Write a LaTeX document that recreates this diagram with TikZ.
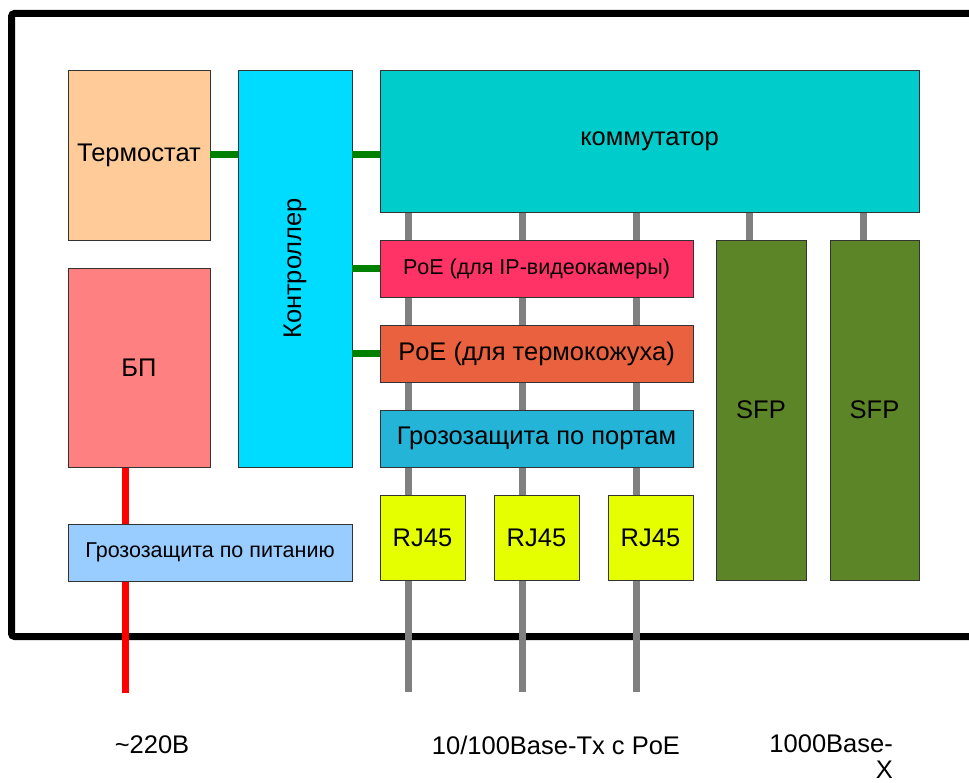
\documentclass[tikz,border=0pt]{standalone}
\usepackage{fontspec}
\setmainfont{Liberation Sans}
\usetikzlibrary{positioning}
\pgfdeclarelayer{background}
\pgfsetlayers{background,main}

\definecolor{thermo}{HTML}{FFCC99}
\definecolor{ctrlblue}{HTML}{00DCFF}
\definecolor{switchcyan}{HTML}{00CCCC}
\definecolor{poepink}{HTML}{FF3366}
\definecolor{poeorange}{HTML}{E9613E}
\definecolor{protblue}{HTML}{23B4D8}
\definecolor{rjyellow}{HTML}{E6FF00}
\definecolor{sfpgreen}{HTML}{5C8527}
\definecolor{psured}{HTML}{FF8080}
\definecolor{pwrblue}{HTML}{99CCFF}
\definecolor{linkgreen}{HTML}{008000}
\definecolor{portgray}{HTML}{808080}

\tikzset{
  block/.style={draw=black!80, line width=0.8pt, inner sep=0pt, font=\fontsize{25.5}{29}\selectfont},
  smallblock/.style={block, font=\fontsize{21.5}{25}\selectfont},
  ctrllink/.style={line width=7pt, draw=linkgreen},
  port/.style={line width=7pt, draw=portgray},
  power/.style={line width=7pt, draw=red},
  caption/.style={font=\fontsize{25.5}{26}\selectfont, inner sep=0pt},
}

\begin{document}
\begin{tikzpicture}[x=1pt, y=-1pt]
\useasboundingbox (0,0) rectangle (969,783);
\clip (0,0) rectangle (969,783);

% Blocks
\node[block, fill=thermo, minimum width=142, minimum height=170] (therm) at (139,155) {Термостат};
\node[block, fill=ctrlblue, minimum width=114, minimum height=397] (ctrl) at (295,268.5) {\rotatebox{90}{Контроллер}};
\node[block, fill=switchcyan, minimum width=539, minimum height=142] (sw) at (649.5,141) {коммутатор};
\node[smallblock, fill=poepink, minimum width=313, minimum height=57] (poecam) at (536.5,268.5) {PoE (для IP-видеокамеры)};
\node[block, fill=poeorange, minimum width=313, minimum height=57] (poeheat) at (536.5,353.5) {PoE (для термокожуха)};
\node[block, fill=protblue, minimum width=313, minimum height=57] (portprot) at (536.5,438.5) {Грозозащита по портам};
\node[block, fill=rjyellow, minimum width=85, minimum height=85] (rj1) at (422.5,537.5) {RJ45};
\node[block, fill=rjyellow, minimum width=85, minimum height=85] (rj2) at (536.5,537.5) {RJ45};
\node[block, fill=rjyellow, minimum width=85, minimum height=85] (rj3) at (650.5,537.5) {RJ45};
\node[block, fill=sfpgreen, minimum width=90, minimum height=340] (sfp1) at (761,410) {SFP};
\node[block, fill=sfpgreen, minimum width=89, minimum height=340] (sfp2) at (874.5,410) {SFP};
\node[block, fill=psured, minimum width=142, minimum height=199] (psu) at (139,367.5) {БП};
\node[smallblock, fill=pwrblue, minimum width=284, minimum height=57] (pwrprot) at (210,552.5) {Грозозащита по питанию};

% Outside ends
\coordinate (mains) at (125,693);
\coordinate (tx1) at (408,692);
\coordinate (tx2) at (522,692);
\coordinate (tx3) at (636,692);

\begin{pgfonlayer}{background}
% Case
\draw[line width=7pt, rounded corners=3pt] (1000,13.5) -| (11.5,636.5) -- (1000,636.5);

% Ports
\draw[port] (sw.south -| tx1) -- (tx1);
\draw[port] (sw.south -| tx2) -- (tx2);
\draw[port] (sw.south -| tx3) -- (tx3);
\draw[port] (sw.south -| 749,0) -- (sfp1.north -| 749,0);
\draw[port] (sw.south -| 863,0) -- (sfp2.north -| 863,0);

% Power
\draw[power] (psu.south -| mains) -- (mains);
\end{pgfonlayer}

% Control
\draw[ctrllink] (therm.east) -- (therm.east -| ctrl.west);
\draw[ctrllink] (ctrl.east |- therm.east) -- (sw.west |- therm.east);
\draw[ctrllink] (ctrl.east |- poecam.west) -- (poecam.west);
\draw[ctrllink] (ctrl.east |- poeheat.west) -- (poeheat.west);

% Labels
\node[caption] (volt) at (152,745) {\textasciitilde220В};
\node[caption] (eth) at (556,745) {10/100Base-Tx с PoE};
\node[caption, align=right, anchor=north east] (fiber) at (893,734) {1000Base-\\X};
\end{tikzpicture}
\end{document}
